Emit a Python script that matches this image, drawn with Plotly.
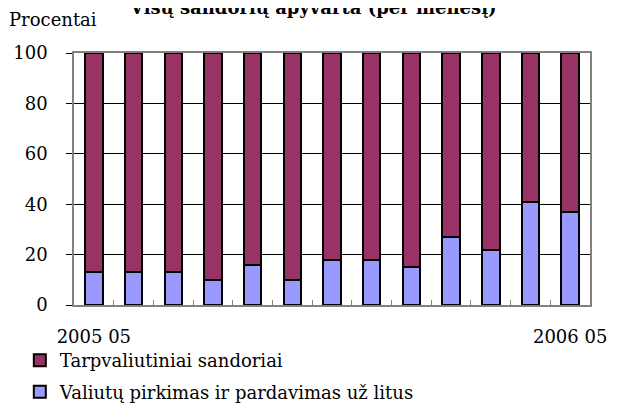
import plotly.graph_objects as go

months = ["2005 05", "2005 06", "2005 07", "2005 08", "2005 09", "2005 10", "2005 11",
          "2005 12", "2006 01", "2006 02", "2006 03", "2006 04", "2006 05"]
tick_text = ["2005 05", "", "", "", "", "", "", "", "", "", "", "", "2006 05"]
valiutu = [13, 13, 13, 10, 16, 10, 18, 18, 15, 27, 22, 41, 37]
tarpvaliutiniai = [87, 87, 87, 90, 84, 90, 82, 82, 85, 73, 78, 59, 63]

FONT = "'DejaVu Serif', 'Liberation Serif', serif"
FS = 18

fig = go.Figure()
fig.add_trace(go.Bar(
    x=months, y=valiutu, name="Valiutų pirkimas ir pardavimas už litus",
    legendrank=2, legendgroup="b",
    marker=dict(color="#9999FF", line=dict(color="black", width=2)),
))
fig.add_trace(go.Bar(
    x=months, y=tarpvaliutiniai, name="Tarpvaliutiniai sandoriai",
    legendrank=1, legendgroup="a",
    marker=dict(color="#993366", line=dict(color="black", width=2)),
))

fig.update_layout(
    width=616, height=403,
    margin=dict(l=66, r=34, t=45, b=106, autoexpand=False),
    barmode="stack", bargap=0.56,
    plot_bgcolor="white", paper_bgcolor="white",
    font=dict(family=FONT, size=FS, color="black"),
    showlegend=True,
    legend=dict(orientation="v", traceorder="grouped", x=-0.105, xanchor="left",
                y=-0.147, yanchor="top", font=dict(family=FONT, size=FS),
                itemwidth=30, tracegroupgap=5, bgcolor="rgba(0,0,0,0)"),
    annotations=[
        dict(text="Procentai", xref="paper", yref="paper", x=-0.04, y=1.133,
             xanchor="center", yanchor="middle", showarrow=False,
             font=dict(family=FONT, size=FS, color="black")),
        dict(text="<b>Visų sandorių apyvarta (per mėnesį)</b>", xref="paper", yref="paper",
             x=(127 - 74) / 516, y=1.18, xanchor="left", yanchor="middle", showarrow=False,
             font=dict(family=FONT, size=FS, color="black")),
    ],
)

fig.update_yaxes(range=[0, 100], tickvals=[0, 20, 40, 60, 80, 100],
                 showgrid=True, gridcolor="black", gridwidth=1,
                 showline=True, linecolor="#808080", linewidth=1.5, mirror=True,
                 ticks="outside", ticklen=6, tickcolor="black", ticklabelstandoff=15,
                 zeroline=False, tickfont=dict(family=FONT, size=FS))
fig.update_xaxes(type="category", tickmode="array", tickvals=months, ticktext=tick_text,
                 tickson="boundaries", ticks="inside", ticklen=5, tickcolor="#808080",
                 showline=True, linecolor="#808080", linewidth=1.5, mirror=True,
                 showgrid=False, ticklabelstandoff=15, tickangle=0,
                 tickfont=dict(family=FONT, size=FS))

fig.write_html("out.html")
